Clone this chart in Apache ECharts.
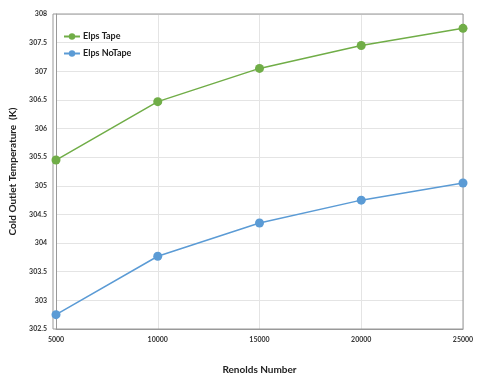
<!DOCTYPE html>
<html>
<head>
<meta charset="utf-8">
<script src="https://cdn.jsdelivr.net/npm/echarts@6/dist/echarts.min.js"></script>
<style>
  html, body { margin: 0; padding: 0; background: #fff; }
  #chart { width: 480px; height: 382px; }
</style>
</head>
<body>
<div id="chart"></div>
<script>
const reynolds = [5000, 10000, 15000, 20000, 25000];
const tapeTemps = [305.45, 306.47, 307.05, 307.45, 307.75];
const noTapeTemps = [302.75, 303.77, 304.35, 304.75, 305.05];

const chart = echarts.init(document.getElementById('chart'));

const tickFont = {
  color: '#333',
  fontSize: 7,
  fontWeight: 'bold',
  fontFamily: 'Lato'
};

chart.setOption({
  animation: false,
  color: ['#70ad47', '#5b9bd5'],
  legend: {
    data: ['Elps Tape', 'Elps NoTape'],
    orient: 'vertical',
    left: 58,
    top: 27,
    itemWidth: 16,
    itemHeight: 8,
    itemGap: 8,
    textStyle: { fontSize: 9, fontWeight: 'bold', fontFamily: 'Lato', color: '#222', padding: [0, 0, 0, -2] }
  },
  grid: {
    left: 53,
    right: 17,
    top: 14,
    bottom: 53
  },
  xAxis: {
    type: 'value',
    min: 5000,
    max: 25000,
    interval: 5000,
    name: 'Renolds Number',
    nameLocation: 'middle',
    nameGap: 36,
    nameTextStyle: { fontSize: 10, fontWeight: 'bold', fontFamily: 'Lato', color: '#222' },
    axisLine: { lineStyle: { color: '#999', width: 1 } },
    axisTick: { show: false },
    axisLabel: Object.assign({ margin: 7, formatter: v => String(v) }, tickFont),
    splitLine: { show: true, lineStyle: { color: '#e4e4e4' } }
  },
  yAxis: {
    type: 'value',
    min: 302.5,
    max: 308,
    interval: 0.5,
    name: 'Cold Outlet Temperature  (K)',
    nameLocation: 'middle',
    nameGap: 38,
    nameTextStyle: { fontSize: 10, fontWeight: 'bold', fontFamily: 'Lato', color: '#222' },
    axisLine: { show: true, lineStyle: { color: '#999', width: 1 } },
    axisTick: { show: false },
    axisLabel: Object.assign({ margin: 9 }, tickFont),
    splitLine: { show: true, lineStyle: { color: '#e4e4e4' } }
  },
  series: [
    {
      name: 'Elps Tape',
      type: 'line',
      data: reynolds.map((r, i) => [r, tapeTemps[i]]),
      symbol: 'circle',
      symbolSize: 9,
      lineStyle: { width: 1.5 }
    },
    {
      name: 'Elps NoTape',
      type: 'line',
      data: reynolds.map((r, i) => [r, noTapeTemps[i]]),
      symbol: 'circle',
      symbolSize: 9,
      lineStyle: { width: 1.5 }
    }
  ]
});

// box around the plot area (top and right edges)
chart.setOption({
  graphic: [{
    type: 'rect',
    shape: { x: 53, y: 14, width: 410, height: 315 },
    style: { fill: 'none', stroke: '#999', lineWidth: 1 },
    silent: true
  }]
});
</script>
</body>
</html>
